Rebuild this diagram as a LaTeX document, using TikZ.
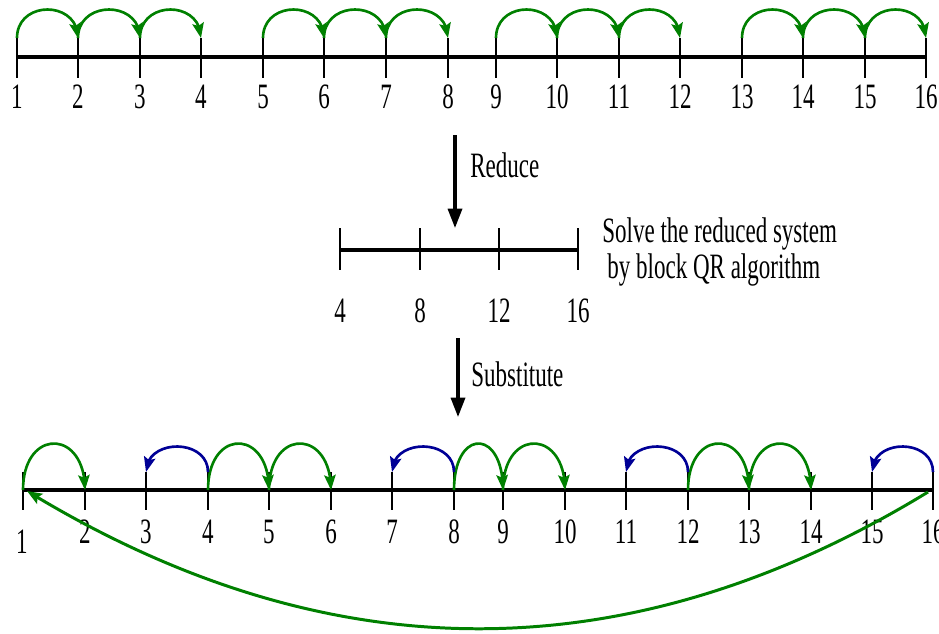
\documentclass[tikz,border=0pt]{standalone}
\usepackage{fontspec}
\setmainfont{Liberation Serif}
\usetikzlibrary{arrows.meta,calc,bending}
\definecolor{arcgreen}{RGB}{0,128,0}
\definecolor{arcblue}{RGB}{0,0,150}
\newcommand{\tallt}[1]{\scalebox{1}[1.55]{#1}}
\begin{document}
\begin{tikzpicture}[x=0.02cm,y=-0.02cm,
  lbl/.style={inner sep=0pt, font=\fontsize{13.1}{15}\selectfont},
  axis/.style={line width=2pt},
  tickmark/.style={line width=1.1pt},
  fwd/.style={draw=arcgreen, line width=1.5pt, -{Stealth[length=8.5pt,width=6.5pt,inset=1.5pt,flex]}},
  bwd/.style={draw=arcblue, line width=1.5pt, -{Stealth[length=8.5pt,width=6.5pt,inset=1.5pt,flex]}},
  bigarrow/.style={line width=1.8pt, -{Triangle[length=11pt,width=8pt]}}]
\useasboundingbox (0,0) rectangle (939,633);

% ---------- top line ----------
\foreach \x [count=\i] in {17,78,140,201,263,324,386,448,496,557,619,680,742,803,865,926} {
  \coordinate (tt\i) at (\x,38);
  \coordinate (tm\i) at (\x,57);
  \coordinate (tb\i) at (\x,78);
  \node[lbl] (tl\i) at (\x,97) {\tallt{\i}};
}
\draw[axis] (tm1) -- (tm16);
\foreach \i in {1,...,16} \draw[tickmark] (tt\i) -- (tb\i);
\foreach \a/\b in {1/2,2/3,3/4,5/6,6/7,7/8,9/10,10/11,11/12,13/14,14/15,15/16}
  \draw[fwd] (tt\a) .. controls +(0,-38) and +(0,-38) .. (tt\b);

% ---------- reduce ----------
\coordinate (rs) at (455,135);
\coordinate (re) at (455,228);
\draw[bigarrow] (rs) -- (re);
\node[lbl, anchor=base west] (reduce) at (470,177) {\tallt{Reduce}};

% ---------- reduced system ----------
\foreach \x/\n in {340/4,420/8,499/12,578/16} {
  \coordinate (mt\n) at (\x,228);
  \coordinate (mm\n) at (\x,250);
  \coordinate (mb\n) at (\x,270);
  \node[lbl] (ml\n) at (\x,311) {\tallt{\n}};
}
\draw[line width=1.8pt] (mm4) -- (mm16);
\foreach \n in {4,8,12,16} \draw[tickmark] (mt\n) -- (mb\n);
\node[lbl, anchor=base west] (solve1) at (602,242) {\tallt{Solve the reduced system}};
\node[lbl, anchor=base west] (solve2) at (607,278) {\tallt{by block QR algorithm}};

% ---------- substitute ----------
\coordinate (ss) at (458,338);
\coordinate (se) at (458,417);
\draw[bigarrow] (ss) -- (se);
\node[lbl, anchor=base west] (subst) at (471,386) {\tallt{Substitute}};

% ---------- bottom line ----------
\foreach \x [count=\i] in {23,85,146,208,269,331,392,454,503,565,626,688,749,811,872,933} {
  \coordinate (bt\i) at (\x,472);
  \coordinate (bm\i) at (\x,490);
  \coordinate (bb\i) at (\x,510);
}
\node[lbl] (bl1) at (22,542) {\tallt{1}};
\foreach \i in {2,...,16} \node[lbl] (bl\i) at ($(bb\i)+(0,22)$) {\tallt{\i}};
\draw[axis] (bm1) -- (bm16);
\foreach \i in {1,...,16} \draw[tickmark] (bt\i) -- (bb\i);
\foreach \a/\b in {1/2,4/5,5/6,8/9,9/10,12/13,13/14}
  \draw[fwd] (bm\a) .. controls +(0,-62) and +(0,-62) .. (bm\b);
\foreach \a/\b in {4/3,8/7,12/11,16/15}
  \draw[bwd] (bt\a) .. controls +(0,-34) and +(0,-34) .. (bt\b);
\coordinate (arcS) at (928,492);
\coordinate (arcE) at (27,491);
\draw[fwd, line width=1.7pt] (arcS) .. controls +(-300,183) and +(300,183) .. (arcE);
\end{tikzpicture}
\end{document}
